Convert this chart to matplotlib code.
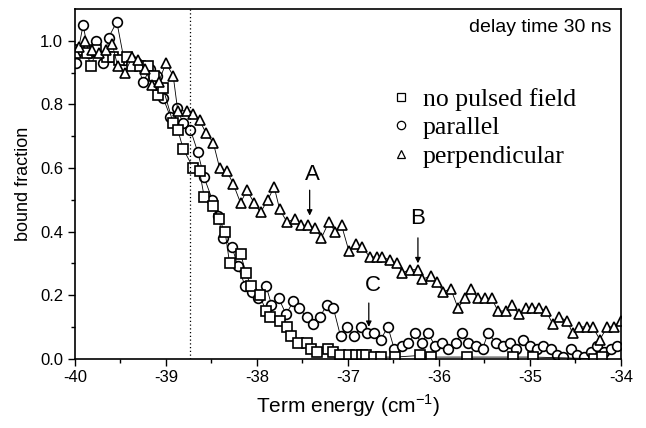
import matplotlib
matplotlib.use("Agg")
import matplotlib.pyplot as plt
from matplotlib.lines import Line2D

# perpendicular (triangles)
perp_x = [-39.99, -39.95, -39.89, -39.81, -39.74, -39.66, -39.59, -39.53, -39.45, -39.37,
          -39.31, -39.23, -39.15, -39.08, -39.00, -38.92, -38.87, -38.77, -38.70, -38.63,
          -38.56, -38.48, -38.41, -38.33, -38.26, -38.18, -38.11, -38.03, -37.96, -37.88,
          -37.81, -37.75, -37.67, -37.58, -37.51, -37.44, -37.36, -37.29, -37.21, -37.14,
          -37.07, -36.99, -36.91, -36.84, -36.76, -36.68, -36.62, -36.54, -36.46, -36.40,
          -36.32, -36.23, -36.18, -36.09, -36.02, -35.95, -35.87, -35.79, -35.71, -35.65,
          -35.57, -35.49, -35.42, -35.35, -35.26, -35.20, -35.12, -35.04, -34.98, -34.90,
          -34.82, -34.75, -34.68, -34.59, -34.53, -34.46, -34.37, -34.31, -34.23, -34.15,
          -34.08, -34.00]
perp_y = [0.96, 0.98, 1.00, 0.97, 0.96, 0.97, 0.99, 0.92, 0.90, 0.95,
          0.94, 0.91, 0.86, 0.87, 0.93, 0.89, 0.78, 0.78, 0.77, 0.75,
          0.71, 0.68, 0.60, 0.59, 0.55, 0.49, 0.53, 0.49, 0.46, 0.50,
          0.54, 0.47, 0.43, 0.44, 0.42, 0.42, 0.41, 0.38, 0.43, 0.40,
          0.42, 0.34, 0.36, 0.35, 0.32, 0.32, 0.32, 0.31, 0.30, 0.27,
          0.28, 0.28, 0.25, 0.26, 0.24, 0.21, 0.22, 0.16, 0.19, 0.22,
          0.19, 0.19, 0.19, 0.15, 0.15, 0.17, 0.14, 0.16, 0.16, 0.16,
          0.15, 0.11, 0.13, 0.12, 0.08, 0.10, 0.10, 0.10, 0.06, 0.10,
          0.10, 0.12]

# no pulsed field (squares)
none_x = [-39.95, -39.87, -39.82, -39.77, -39.65, -39.58, -39.52, -39.43, -39.37, -39.29,
          -39.20, -39.13, -39.09, -39.03, -38.92, -38.87, -38.81, -38.70, -38.63, -38.58,
          -38.48, -38.42, -38.35, -38.30, -38.18, -38.12, -38.07, -37.97, -37.90, -37.86,
          -37.75, -37.67, -37.62, -37.55, -37.45, -37.41, -37.34, -37.22, -37.16, -37.09,
          -36.99, -36.91, -36.85, -36.80, -36.71, -36.64, -36.48, -36.21, -36.09, -35.69,
          -35.19, -34.96, -34.29, -34.21]
none_y = [0.97, 0.96, 0.92, 0.97, 0.95, 0.95, 0.94, 0.95, 0.92, 0.92,
          0.92, 0.89, 0.83, 0.85, 0.74, 0.72, 0.66, 0.60, 0.59, 0.51,
          0.48, 0.44, 0.40, 0.30, 0.33, 0.27, 0.23, 0.20, 0.15, 0.13,
          0.12, 0.10, 0.07, 0.05, 0.05, 0.03, 0.02, 0.03, 0.02, 0.01,
          0.01, 0.01, 0.01, 0.01, 0.005, 0.005, 0.005, 0.01, 0.005, 0.005,
          0.005, 0.005, 0.0, 0.005]

# parallel (circles)
par_x = [-39.99, -39.91, -39.85, -39.77, -39.69, -39.63, -39.54, -39.46, -39.38, -39.32,
         -39.25, -39.18, -39.10, -39.03, -38.95, -38.88, -38.81, -38.73, -38.65, -38.58,
         -38.49, -38.43, -38.37, -38.27, -38.21, -38.13, -38.05, -37.99, -37.90, -37.84,
         -37.76, -37.68, -37.60, -37.54, -37.45, -37.38, -37.31, -37.23, -37.16, -37.08,
         -37.01, -36.93, -36.86, -36.79, -36.71, -36.64, -36.56, -36.49, -36.41, -36.34,
         -36.26, -36.19, -36.12, -36.04, -35.97, -35.90, -35.81, -35.75, -35.68, -35.59,
         -35.52, -35.46, -35.37, -35.30, -35.22, -35.15, -35.08, -35.00, -34.92, -34.86,
         -34.77, -34.70, -34.63, -34.55, -34.48, -34.41, -34.33, -34.26, -34.19, -34.11,
         -34.04]
par_y = [0.93, 1.05, 0.96, 1.00, 0.93, 1.01, 1.06, 0.94, 0.94, 0.93,
         0.87, 0.91, 0.89, 0.82, 0.76, 0.79, 0.74, 0.72, 0.65, 0.57,
         0.50, 0.45, 0.38, 0.35, 0.29, 0.23, 0.21, 0.19, 0.23, 0.17,
         0.19, 0.14, 0.18, 0.16, 0.13, 0.11, 0.13, 0.17, 0.16, 0.07,
         0.10, 0.07, 0.10, 0.08, 0.08, 0.06, 0.10, 0.03, 0.04, 0.05,
         0.08, 0.05, 0.08, 0.04, 0.05, 0.03, 0.05, 0.08, 0.05, 0.04,
         0.03, 0.08, 0.05, 0.04, 0.05, 0.03, 0.06, 0.04, 0.03, 0.04,
         0.03, 0.01, 0.005, 0.03, 0.01, 0.005, 0.02, 0.04, 0.02, 0.03,
         0.04]

X_TICKS = [-40, -39, -38, -37, -36, -35, -34]
Y_TICKS = [0.0, 0.2, 0.4, 0.6, 0.8, 1.0]
DASHED_X = -38.74

# label, text position, arrow start, arrow end
ANNOTATIONS = [
    ("A", (-37.39, 0.58), (-37.42, 0.53), (-37.42, 0.45)),
    ("B", (-36.23, 0.44), (-36.23, 0.38), (-36.23, 0.30)),
    ("C", (-36.73, 0.23), (-36.77, 0.175), (-36.77, 0.10)),
]

plt.rcParams["font.family"] = ["Liberation Sans", "DejaVu Sans"]

fig = plt.figure(figsize=(6.46, 4.28), dpi=100)
ax = fig.add_axes([0.116, 0.162, 0.845, 0.817])

style = dict(color="black", lw=0.6, mfc="white", mec="black", mew=1.2)
ax.plot(par_x, par_y, marker="o", ms=7.0, **style)
ax.plot(none_x, none_y, marker="s", ms=6.5, **style)
ax.plot(perp_x, perp_y, marker="^", ms=7.5, **style)

ax.axvline(DASHED_X, color="black", lw=0.9, ls=(0, (1, 2)))

for label, txt, start, end in ANNOTATIONS:
    ax.annotate("", xy=end, xytext=start,
                arrowprops=dict(arrowstyle="-|>", color="black", lw=0.9,
                                mutation_scale=8, shrinkA=0, shrinkB=0))
    ax.text(txt[0], txt[1], label, fontsize=16, ha="center", va="center")

ax.set_xlim(-40, -34)
ax.set_ylim(0, 1.1)
ax.set_xticks(X_TICKS)
ax.set_xticklabels([str(t) for t in X_TICKS])
ax.set_yticks(Y_TICKS)
ax.set_yticklabels([f"{t:.1f}" for t in Y_TICKS])
ax.set_xticks([t + 0.5 for t in X_TICKS[:-1]], minor=True)
ax.set_yticks([0.1, 0.3, 0.5, 0.7, 0.9], minor=True)
ax.tick_params(which="both", direction="out", width=1.0, labelsize=12)
ax.tick_params(which="major", length=5)
ax.tick_params(which="minor", length=3)
for sp in ax.spines.values():
    sp.set_linewidth(1.2)

ax.set_xlabel(r"Term energy (cm$^{\mathregular{-1}}$)", fontsize=15, labelpad=5)
ax.set_ylabel("bound fraction", fontsize=13, labelpad=6)

ax.text(0.983, 0.946, "delay time 30 ns", transform=ax.transAxes,
        fontsize=14, ha="right", va="center")

handles = [
    Line2D([], [], ls="none", marker="s", ms=6, mfc="white", mec="black", mew=0.9),
    Line2D([], [], ls="none", marker="o", ms=6, mfc="white", mec="black", mew=0.9),
    Line2D([], [], ls="none", marker="^", ms=6, mfc="white", mec="black", mew=0.9),
]
ax.legend(handles, ["no pulsed field", "parallel", "perpendicular"],
          loc="upper left", bbox_to_anchor=(0.555, 0.81), frameon=False,
          prop={"family": "Liberation Serif", "size": 18.5},
          handlelength=0.8, handletextpad=0.45, labelspacing=0.2, borderpad=0)

fig.savefig("out.png", dpi=100)
